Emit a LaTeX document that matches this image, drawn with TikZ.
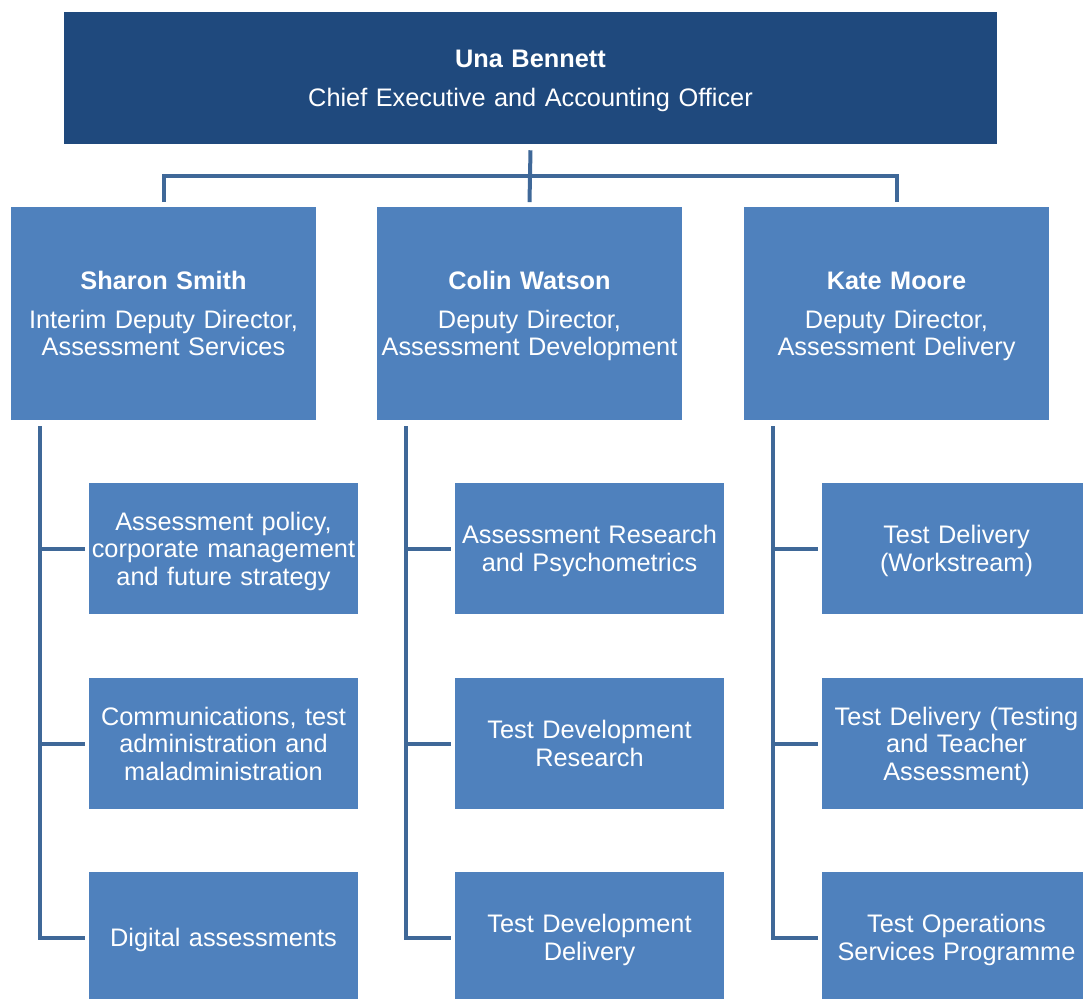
\documentclass[tikz,border=0pt]{standalone}
\usepackage{fontspec}
\setmainfont{Liberation Sans}
\definecolor{topblue}{HTML}{1F497D}
\definecolor{midblue}{HTML}{4F81BD}
\definecolor{linecol}{HTML}{3F6898}
\tikzset{
  x=0.75pt, y=-0.75pt,
  box/.style={fill=midblue, draw=none, text=white, align=center, inner sep=0pt,
    font=\fontsize{19pt}{20.6pt}\selectfont,
    execute at begin node={\rule{0pt}{18pt}},
    execute at end node={\rule[-4.2pt]{0pt}{0pt}}},
  topbox/.style={box, fill=topblue, minimum width=699.75pt, minimum height=99pt, text width=690pt},
  midbox/.style={box, minimum width=228.75pt, minimum height=159.75pt, text width=228pt},
  childbox/.style={box, minimum width=201.75pt, minimum height=98.25pt, text width=201.75pt},
  conn/.style={draw=linecol, line width=3pt},
}
\newcommand{\nm}[1]{\textbf{#1}\\[8.6pt]}
\begin{document}
\begin{tikzpicture}
\useasboundingbox (0,0) rectangle (1083,999);
\node[topbox] (top) at (530.5,78) {\nm{Una Bennett}Chief Executive and Accounting Officer};
\node[midbox] (m1) at (163.5,313.5) {\nm{Sharon Smith}Interim Deputy Director,\\Assessment Services};
\node[midbox] (m2) at (529.5,313.5) {\nm{Colin Watson}Deputy Director,\\Assessment Development};
\node[midbox] (m3) at (896.5,313.5) {\nm{Kate Moore}Deputy Director,\\Assessment Delivery};

\node[childbox] (c11) at (223.5,548.5) {Assessment policy,\\corporate management\\and future strategy};
\node[childbox] (c12) at (223.5,743.5) {Communications, test\\administration and\\maladministration};
\node[childbox] (c13) at (223.5,937.5) {Digital assessments};
\node[childbox] (c21) at (589.5,548.5) {Assessment Research\\and Psychometrics};
\node[childbox] (c22) at (589.5,743.5) {Test Development\\Research};
\node[childbox] (c23) at (589.5,937.5) {Test Development\\Delivery};
\node[childbox] (c31) at (956.5,548.5) {Test Delivery\\(Workstream)};
\node[childbox] (c32) at (956.5,743.5) {Test Delivery (Testing\\and Teacher\\Assessment)};
\node[childbox] (c33) at (956.5,937.5) {Test Operations\\Services Programme};

% top connectors
\coordinate (bus) at (530,176);
\draw[conn] ([yshift=-4.5pt]top.south) -- ([yshift=3.5pt]m2.north);
\draw[conn] ([yshift=3.5pt]m1.north) |- (bus) -| ([yshift=3.5pt]m3.north);

% side connectors
\coordinate (s1) at (40,426);
\coordinate (s2) at (406,426);
\coordinate (s3) at (773,426);
\foreach \s/\c in {s1/c1,s2/c2,s3/c3}{
  \draw[conn, shorten >=3pt] (\s) |- (\c3.west);
  \draw[conn, shorten >=3pt] (\s |- \c1.west) -- (\c1.west);
  \draw[conn, shorten >=3pt] (\s |- \c2.west) -- (\c2.west);
}
\end{tikzpicture}
\end{document}
